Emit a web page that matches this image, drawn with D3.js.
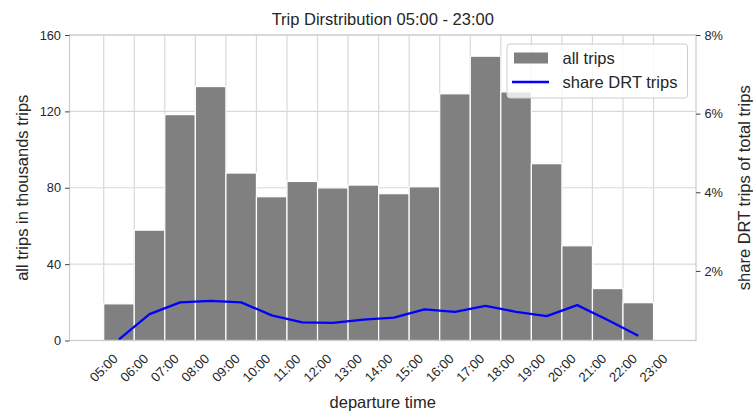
<!DOCTYPE html>
<html><head><meta charset="utf-8">
<script src="https://cdn.jsdelivr.net/npm/d3@7"></script>
<style>body{margin:0;background:#fff}svg{display:block}text{font-family:"Liberation Sans",Arial,sans-serif;fill:#262626}</style>
</head><body><svg id="c" width="753" height="413"></svg>
<script>
// ---- data ----
const binStarts = [5,6,7,8,9,10,11,12,13,14,15,16,17,18,19,20,21,22];
const allTrips = [19.2,57.8,118.3,133.0,87.7,75.3,83.3,79.9,81.4,76.9,80.5,129.2,148.9,130.2,92.6,49.6,27.2,19.8];
const shareDRT = [0.26,0.90,1.20,1.24,1.20,0.87,0.69,0.68,0.76,0.81,1.02,0.96,1.11,0.96,0.85,1.13,0.75,0.35];
const xTicks = [5,6,7,8,9,10,11,12,13,14,15,16,17,18,19,20,21,22,23];
const xTickLabels = ["05:00","06:00","07:00","08:00","09:00","10:00","11:00","12:00","13:00","14:00","15:00","16:00","17:00","18:00","19:00","20:00","21:00","22:00","23:00"];
const leftTicks = [0,40,80,120,160];
const rightTicks = [2,4,6,8];
const legendLabels = ["all trips","share DRT trips"];

const svg = d3.select("#c");
const L=69.5,R=696,T=35,B=340.5;
const x = d3.scaleLinear().domain([3.88,24.39]).range([L,R]);
const yL = d3.scaleLinear().domain([0,160]).range([B,T]);
const yR = d3.scaleLinear().domain([0.23,8.0]).range([B,T]);
const grid="#d9d9d9", spine="#cccccc";

// grid
const g = svg.append("g");
g.selectAll(".vg").data(xTicks).join("line")
  .attr("x1",d=>x(d)).attr("x2",d=>x(d)).attr("y1",T).attr("y2",B)
  .attr("stroke",grid).attr("stroke-width",1.2);
g.selectAll(".hg").data(leftTicks).join("line")
  .attr("x1",L).attr("x2",R).attr("y1",d=>yL(d)).attr("y2",d=>yL(d))
  .attr("stroke",grid).attr("stroke-width",1.2);

// bars
svg.append("g").selectAll("rect").data(allTrips).join("rect")
  .attr("x",(d,i)=>x(binStarts[i])).attr("width",(d,i)=>x(binStarts[i]+1)-x(binStarts[i]))
  .attr("y",d=>yL(d)).attr("height",d=>yL(0)-yL(d))
  .attr("fill","#808080").attr("stroke","#ffffff").attr("stroke-width",1.2);

// line
const line = d3.line().x((d,i)=>x(binStarts[i]+0.5)).y(d=>yR(d));
svg.append("path").datum(shareDRT).attr("d",line)
  .attr("fill","none").attr("stroke","#0000ff").attr("stroke-width",2.3).attr("stroke-linejoin","round");

// spines
svg.append("rect").attr("x",L).attr("y",T).attr("width",R-L).attr("height",B-T)
  .attr("fill","none").attr("stroke",spine).attr("stroke-width",1.2);

// left axis
const la = svg.append("g").attr("transform",`translate(${L},0)`)
  .call(d3.axisLeft(yL).tickValues(leftTicks).tickSize(4.5).tickPadding(4).tickFormat(d3.format("d")));
la.select(".domain").remove();
la.selectAll("line").attr("stroke","#444");
la.selectAll("text").style("font-size","12.8px").style("font-family","Liberation Sans");

// right axis
const ra = svg.append("g").attr("transform",`translate(${R},0)`)
  .call(d3.axisRight(yR).tickValues(rightTicks).tickSize(4.5).tickPadding(4).tickFormat(d=>d+"%"));
ra.select(".domain").remove();
ra.selectAll("line").attr("stroke","#444");
ra.selectAll("text").style("font-size","12.8px").style("font-family","Liberation Sans");

// x tick labels
svg.append("g").selectAll("text").data(xTicks).join("text")
  .attr("transform",d=>`translate(${x(d)},${B+27.5}) rotate(-45)`)
  .attr("text-anchor","middle").attr("dominant-baseline","central")
  .style("font-size","13.2px").text((d,i)=>xTickLabels[i]);

// titles
svg.append("text").attr("x",(L+R)/2).attr("y",25).attr("text-anchor","middle")
  .style("font-size","16.5px").text("Trip Dirstribution 05:00 - 23:00");
svg.append("text").attr("x",(L+R)/2).attr("y",408).attr("text-anchor","middle")
  .style("font-size","16.5px").text("departure time");
svg.append("text").attr("transform",`translate(22,${(T+B)/2}) rotate(-90)`)
  .attr("text-anchor","middle").attr("dominant-baseline","central")
  .style("font-size","16.5px").text("all trips in thousands trips");
svg.append("text").attr("transform",`translate(744,${(T+B)/2}) rotate(-90)`)
  .attr("text-anchor","middle").attr("dominant-baseline","central")
  .style("font-size","16.5px").text("share DRT trips of total trips");

// legend
const lg = svg.append("g");
lg.append("rect").attr("x",507).attr("y",44).attr("width",180.5).attr("height",54).attr("rx",3)
  .attr("fill","#ffffff").attr("fill-opacity",0.8).attr("stroke","#cccccc").attr("stroke-width",1);
lg.append("rect").attr("x",514).attr("y",52.5).attr("width",34).attr("height",11).attr("fill","#808080");
lg.append("line").attr("x1",512).attr("x2",549).attr("y1",82).attr("y2",82).attr("stroke","#0000ff").attr("stroke-width",2.3);
lg.selectAll(".lt").data(legendLabels).join("text")
  .attr("x",562.5).attr("y",(d,i)=>[58.3,82.3][i]).attr("dominant-baseline","central")
  .style("font-size","16.5px").text(d=>d);
</script></body></html>
